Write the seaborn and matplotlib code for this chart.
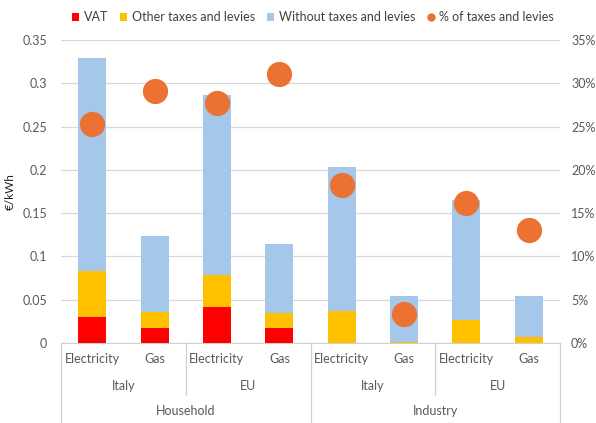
import numpy as np
import pandas as pd
import matplotlib
matplotlib.use("Agg")
import matplotlib.pyplot as plt
import seaborn as sns
from matplotlib.patches import Patch
from matplotlib.lines import Line2D
import matplotlib.transforms as mtransforms

# ---- data ----
sectors = ["Household", "Household", "Household", "Household",
           "Industry", "Industry", "Industry", "Industry"]
regions = ["Italy", "Italy", "EU", "EU", "Italy", "Italy", "EU", "EU"]
carriers = ["Electricity", "Gas", "Electricity", "Gas",
            "Electricity", "Gas", "Electricity", "Gas"]
vat = [0.030, 0.017, 0.042, 0.017, 0.000, 0.000, 0.000, 0.000]
other_taxes = [0.053, 0.019, 0.037, 0.018, 0.037, 0.0015, 0.027, 0.007]
without_taxes = [0.246, 0.088, 0.208, 0.079, 0.166, 0.053, 0.138, 0.047]
pct_taxes = [25.3, 29.1, 27.7, 31.1, 18.3, 3.3, 16.2, 13.0]

C_VAT = "#FF0000"
C_OTH = "#FFC000"
C_WO = "#A5C8EA"
C_DOT = "#EB7232"
TXT = "#595959"

plt.rcParams["font.family"] = ["Lato", "DejaVu Sans"]

keys = [f"{s}|{r}|{c}" for s, r, c in zip(sectors, regions, carriers)]
df = pd.DataFrame({
    "key": keys,
    "vat": vat,
    "other": other_taxes,
    "without": without_taxes,
    "pct": pct_taxes,
})
df["lvl2"] = df["vat"] + df["other"]
df["total"] = df["lvl2"] + df["without"]

fig = plt.figure(figsize=(5.96, 4.23), dpi=100)
ax = fig.add_axes([61/596, 1-343/423, (560-61)/596, (343-40)/423])

bw = 0.45
sns.barplot(data=df, x="key", y="total", color=C_WO, width=bw, ax=ax,
            saturation=1, order=keys, linewidth=0, zorder=2)
sns.barplot(data=df, x="key", y="lvl2", color=C_OTH, width=bw, ax=ax,
            saturation=1, order=keys, linewidth=0, zorder=3)
sns.barplot(data=df, x="key", y="vat", color=C_VAT, width=bw, ax=ax,
            saturation=1, order=keys, linewidth=0, zorder=4)

ax.set_ylim(0, 0.35)
ax.set_xlim(-0.5, len(keys) - 0.5)
ax.set_yticks(np.arange(0, 0.351, 0.05))
ax.set_yticklabels(["0", "0.05", "0.1", "0.15", "0.2", "0.25", "0.3", "0.35"])
ax.yaxis.grid(True, color="#D9D9D9", linewidth=0.9, zorder=0)
ax.set_axisbelow(True)
for s in ["top", "right", "left"]:
    ax.spines[s].set_visible(False)
ax.spines["bottom"].set_color("#D0D0D0")
ax.tick_params(axis="both", length=0, colors=TXT, labelsize=9)
ax.tick_params(axis="y", pad=10)
ax.set_xticks(range(len(keys)))
ax.set_xticklabels(carriers)
ax.tick_params(axis="x", pad=7)
ax.set_xlabel("")
ax.set_ylabel("€/kWh", color="#222222", fontsize=8.5, labelpad=5)

ax2 = ax.twinx()
sns.scatterplot(x=np.arange(len(keys)), y=df["pct"], ax=ax2, color=C_DOT,
                s=330, linewidth=0, zorder=5, legend=False)
ax2.set_ylim(0, 35)
ax2.set_yticks(np.arange(0, 36, 5))
ax2.set_yticklabels([f"{v}%" for v in range(0, 36, 5)])
ax2.tick_params(axis="y", length=0, colors=TXT, labelsize=9, pad=8)
for s in ["top", "right", "left", "bottom"]:
    ax2.spines[s].set_visible(False)
ax2.set_ylabel("")

# multi-level category labels
trans = mtransforms.blended_transform_factory(ax.transData, ax.transAxes)
region_groups = [(0, 1, "Italy"), (2, 3, "EU"), (4, 5, "Italy"), (6, 7, "EU")]
for a, b, lab in region_groups:
    ax.text((a + b) / 2, -0.142, lab, transform=trans, ha="center", va="center",
            fontsize=9, color=TXT)
sector_groups = [(0, 3, "Household"), (4, 7, "Industry")]
for a, b, lab in sector_groups:
    ax.text((a + b) / 2, -0.224, lab, transform=trans, ha="center", va="center",
            fontsize=9, color=TXT)
line_kw = dict(transform=trans, color="#D0D0D0", linewidth=0.9, clip_on=False)
for xb in [-0.5, 3.5, 7.5]:
    ax.plot([xb, xb], [0, -0.264], **line_kw)
for xb in [1.5, 5.5]:
    ax.plot([xb, xb], [0, -0.172], **line_kw)

handles = [
    Patch(facecolor=C_VAT, label="VAT"),
    Patch(facecolor=C_OTH, label="Other taxes and levies"),
    Patch(facecolor=C_WO, label="Without taxes and levies"),
    Line2D([], [], marker="o", linestyle="none", color=C_DOT, markersize=5,
           label="% of taxes and levies"),
]
fig.legend(handles=handles, loc="center", bbox_to_anchor=(313/596, 1-17/423),
           ncol=4, frameon=False, fontsize=9, handlelength=0.6, handleheight=0.6,
           handletextpad=0.4, columnspacing=0.9, labelcolor="#404040")

fig.savefig("out.png", dpi=100)
